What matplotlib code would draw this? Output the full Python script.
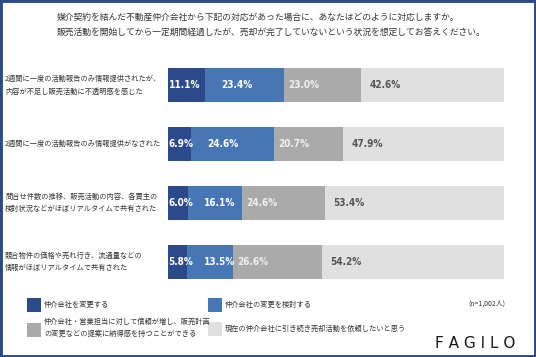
import matplotlib
matplotlib.use("Agg")
import matplotlib.pyplot as plt
import matplotlib.patches as patches
import matplotlib.transforms as mtransforms

plt.rcParams['font.family'] = ['Noto Sans CJK JP', 'DejaVu Sans']

# ----------------------------------------------------------------------
# DATA
# ----------------------------------------------------------------------
TITLE = ("媒介契約を結んだ不動産仲介会社から下記の対応があった場合に、あなたはどのように対応しますか。\n"
         "販売活動を開始してから一定期間経過したが、売却が完了していないという状況を想定してお答えください。")

questions = [
    "2週間に一度の活動報告のみ情報提供されたが、\n内容が不足し販売活動に不透明感を感じた",
    "2週間に一度の活動報告のみ情報提供がなされた",
    "問合せ件数の推移、販売活動の内容、各買主の\n検討状況などがほぼリアルタイムで共有された",
    "競合物件の価格や売れ行き、流通量などの\n情報がほぼリアルタイムで共有された",
]
change = [11.1, 6.9, 6.0, 5.8]
consider = [23.4, 24.6, 16.1, 13.5]
trust = [23.0, 20.7, 24.6, 26.6]
stay = [42.6, 47.9, 53.4, 54.2]

legend_labels = [
    "仲介会社を変更する",
    "仲介会社の変更を検討する",
    "仲介会社・営業担当に対して信頼が増し、販売計画\nの変更などの提案に納得感を持つことができる",
    "現在の仲介会社に引き続き売却活動を依頼したいと思う",
]
note = "(n=1,002人)"

colors = ['#2c4a8a', '#4776b5', '#aaaaaa', '#e0e0e0']
text_colors = ['white', 'white', '#f0f0f0', '#555555']
label_offsets = [0.2, 4.8, 1.3, 2.5]   # label start, % units past segment start

W, H = 536, 357
fig = plt.figure(figsize=(W / 100, H / 100), dpi=100)
fig.patch.set_facecolor('white')


def fx(x):
    return x / W


def fy(y):
    return 1 - y / H


# frame
fig.add_artist(patches.Rectangle((0, 0), 1, 1, transform=fig.transFigure,
                                 facecolor='none', edgecolor='#2c4a8a',
                                 linewidth=3.5))

fig.text(fx(57), fy(25), TITLE, fontsize=6.35, color='#333333',
         ha='left', va='center', linespacing=1.85)

# bars
ax = fig.add_axes([fx(168), fy(291), fx(504) - fx(168), (291 - 56) / H])
series = [change, consider, trust, stay]
n = len(questions)
lefts = [0.0] * n
for s, vals in enumerate(series):
    ax.barh(range(n), vals, left=lefts, height=0.58, color=colors[s],
            edgecolor='none')
    for i, v in enumerate(vals):
        ax.text(lefts[i] + label_offsets[s], i, f"{v:.1f}%",
                ha='left', va='center', color=text_colors[s],
                fontsize=7.2, fontweight='bold',
                family='DejaVu Sans', fontstretch='condensed')
    lefts = [l + v for l, v in zip(lefts, vals)]

ax.set_xlim(0, 100)
ax.set_ylim(n - 0.5, -0.5)
ax.axis('off')

trans = mtransforms.blended_transform_factory(fig.transFigure, ax.transData)
for i, q in enumerate(questions):
    ax.text(fx(5), i, q, transform=trans, ha='left', va='center',
            fontsize=5.2, color='#333333', linespacing=1.7)

# legend
legend_pos = [(27, 298), (208, 298), (27, 323), (208, 322)]
text_y = [304.5, 304.5, 328, 328.5]
for k, lab in enumerate(legend_labels):
    x0, y0 = legend_pos[k]
    fig.add_artist(patches.Rectangle((fx(x0), fy(y0 + 14)), 14 / W, 14 / H,
                                     transform=fig.transFigure,
                                     facecolor=colors[k], edgecolor='none'))
    fig.text(fx(x0 + 17), fy(text_y[k]), lab, fontsize=5.2, color='#333333',
             ha='left', va='center', linespacing=1.7)

fig.text(fx(505), fy(304), note, fontsize=5.0, color='#333333',
         ha='right', va='center')
fig.text(fx(475), fy(343), "F A G I L O", fontsize=11, color='#1a1a1a',
         ha='center', va='center', family='DejaVu Sans', fontweight='normal')

fig.savefig('out.png', dpi=100, facecolor='white')
